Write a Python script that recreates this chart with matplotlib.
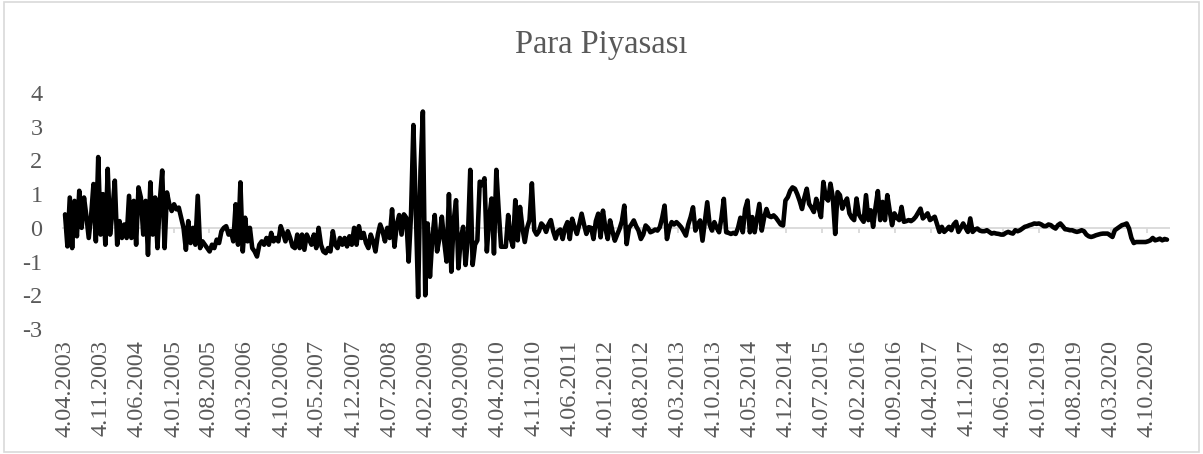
import pandas as pd
import matplotlib
matplotlib.use("Agg")
import matplotlib.pyplot as plt
from matplotlib.patches import Rectangle

# iki haftalık gözlemler, yıllara göre
v2003 = [0.4, -0.55, 0.9, -0.6, 0.8, -0.25, 1.1, 0.0, 0.9, 0.35, -0.3, 0.35, 1.3, -0.4, 2.1, -0.2,
         1.0, -0.5, 1.75, -0.2]
v2004 = [0.5, 1.4, -0.5, 0.2, -0.3, 0.1, -0.3, 0.95, -0.3, 0.8, -0.5, 1.2, 0.9, -0.2, 0.8, -0.8,
         1.35, -0.2, 0.9, -0.6, 0.8, 1.7, -0.6, 1.05, 0.7, 0.5]
v2005 = [0.7, 0.55, 0.6, 0.3, 0.0, -0.65, 0.2, -0.45, 0.0, -0.5, 0.95, -0.6, -0.4, -0.5, -0.6, -0.7,
         -0.5, -0.6, -0.35, -0.45, -0.1, 0.0, 0.05, -0.2, -0.1, -0.4]
v2006 = [0.7, -0.5, 1.35, -0.7, 0.3, -0.4, 0.0, -0.6, -0.7, -0.85, -0.5, -0.4, -0.5, -0.3, -0.5, -0.15,
         -0.4, -0.3, -0.4, 0.05, -0.15, -0.4, -0.1, -0.3, -0.55, -0.6]
v2007 = [-0.2, -0.6, -0.2, -0.65, -0.2, -0.35, -0.5, -0.2, -0.6, 0.0, -0.5, -0.7, -0.75, -0.6, -0.7, -0.1,
         -0.5, -0.6, -0.3, -0.5, -0.3, -0.55, -0.25, -0.5, 0.0, -0.5]
v2008 = [0.05, -0.3, -0.15, -0.45, -0.6, -0.2, -0.4, -0.7, -0.2, 0.1, -0.1, -0.4, 0.0, -0.3, 0.55, -0.56,
         0.1, 0.38, -0.2, 0.4, 0.3, -1.0, 0.4, 3.05, 0.6, -2.05]
v2009 = [1.7, 3.45, -2.0, 0.13, -1.45, -0.3, 0.38, -0.7, -0.3, 0.33, -0.4, -1.0, 1.0, -1.3, 0.2, 0.82,
         -1.2, -0.3, 0.03, -1.1, -0.3, 1.72, -1.1, -0.5, -0.37, 1.37]
v2010 = [1.27, 1.47, -0.7, 0.3, 0.87, -0.76, 1.72, 0.5, -0.56, -0.56, -0.56, 0.38, -0.3, -0.56, 0.82, -0.37,
         0.62, 0.0, -0.42, 0.0, 0.23, 1.32, -0.07, -0.2, -0.1, 0.13, 0.05]
v2011 = [-0.12, 0.1, 0.23, -0.1, -0.32, -0.1, -0.05, -0.33, 0.0, 0.17, -0.33, 0.27, 0.02, -0.18, 0.1, 0.42,
         0.1, -0.18, 0.02, 0.0, -0.33, 0.2, 0.42, -0.28, 0.51, 0.0]
v2012 = [-0.33, 0.22, -0.1, -0.38, -0.2, -0.03, 0.2, 0.66, -0.48, 0.0, 0.1, 0.22, 0.05, -0.08, -0.33, -0.2,
         0.07, 0.0, -0.13, -0.1, -0.05, -0.08, 0.02, 0.3, 0.66, -0.33]
v2013 = [0.0, 0.17, 0.1, 0.17, 0.1, 0.02, -0.1, -0.23, 0.1, 0.32, 0.61, -0.08, 0.1, 0.22, -0.38, 0.2,
         0.76, 0.1, -0.08, 0.17, 0.0, -0.13, 0.3, 0.86, -0.13, -0.15]
v2014 = [-0.18, -0.15, -0.18, 0.0, 0.3, -0.13, 0.56, 0.81, -0.13, 0.32, -0.13, 0.3, 0.71, -0.08, 0.3, 0.56,
         0.35, 0.32, 0.37, 0.3, 0.2, 0.1, 0.07, 0.81, 0.91, 1.1]
v2015 = [1.2, 1.16, 1.0, 0.8, 0.56, 0.9, 1.16, 0.71, 0.6, 0.47, 0.86, 0.6, 0.32, 1.36, 0.9, 0.81,
         1.31, 0.9, -0.18, 1.06, 0.97, 0.57, 0.75, 0.87, 0.43, 0.3]
v2016 = [0.23, 0.87, 0.4, 0.28, 0.18, 0.97, 0.23, 0.52, 0.03, 0.6, 1.09, 0.23, 0.77, 0.23, 0.97, 0.5,
         0.08, 0.43, 0.3, 0.23, 0.62, 0.18, 0.2, 0.23, 0.2, 0.25]
v2017 = [0.33, 0.45, 0.57, 0.28, 0.35, 0.43, 0.23, 0.28, 0.33, 0.1, -0.12, 0.03, -0.12, -0.05, 0.03, -0.07,
         0.1, 0.18, -0.12, 0.0, 0.13, 0.0, -0.12, 0.28, -0.12, -0.05]
v2018 = [-0.02, -0.08, -0.1, -0.1, -0.07, -0.12, -0.17, -0.15, -0.17, -0.18, -0.2, -0.2, -0.15, -0.12, -0.15, -0.17,
         -0.07, -0.1, -0.07, -0.02, 0.03, 0.05, 0.08, 0.1, 0.13, 0.12]
v2019 = [0.13, 0.1, 0.05, 0.05, 0.1, 0.08, 0.02, -0.02, 0.08, 0.13, 0.05, -0.04, -0.05, -0.07, -0.07, -0.1,
         -0.12, -0.1, -0.07, -0.1, -0.2, -0.25, -0.27, -0.25, -0.22, -0.2]
v2020 = [-0.18, -0.17, -0.17, -0.17, -0.22, -0.27, -0.07, -0.02, 0.03, 0.08, 0.1, 0.13, -0.02, -0.3, -0.45, -0.42,
         -0.42, -0.42, -0.42, -0.42, -0.4, -0.37, -0.3, -0.37, -0.35, -0.32]
v2021 = [-0.37, -0.33, -0.35]

degerler = (v2003 + v2004 + v2005 + v2006 + v2007 + v2008 + v2009 + v2010 + v2011 + v2012
            + v2013 + v2014 + v2015 + v2016 + v2017 + v2018 + v2019 + v2020 + v2021)
tarihler = pd.date_range("2003-04-04", periods=len(degerler), freq="14D")

# eksen etiketleri: her 7 ayda bir, ayın 4'ü
etiket_tarihleri = pd.date_range("2003-04-01", "2020-10-01", freq="7MS") + pd.Timedelta(days=3)
etiketler = [f"{t.day}.{t.month:02d}.{t.year}" for t in etiket_tarihleri]
y_degerleri = [4, 3, 2, 1, 0, -1, -2, -3]

plt.rcParams['font.family'] = ['Liberation Serif', 'DejaVu Serif']
plt.rcParams['axes.unicode_minus'] = False
gri = '#595959'

W, H = 1203, 454
fig = plt.figure(figsize=(W / 100, H / 100), dpi=100)
ax = fig.add_axes([62 / W, (H - 329) / H, (1170 - 62) / W, (329 - 93) / H])

ax.axhline(0, color='#d9d9d9', lw=1.3, zorder=1)
ax.vlines(etiket_tarihleri, -0.16, 0, color='#d9d9d9', lw=1.3, zorder=1)
ax.plot(tarihler, degerler, color='black', lw=3.3, solid_joinstyle='round',
        solid_capstyle='round', zorder=3)

ax.set_xlim(tarihler[0] - pd.Timedelta(days=18), tarihler[-1] + pd.Timedelta(days=18))
ax.set_ylim(-3, 4)
ax.set_yticks(y_degerleri)
ax.set_yticklabels([str(v) for v in y_degerleri])
ax.set_xticks(etiket_tarihleri)
ax.set_xticklabels(etiketler, rotation=90)
ax.tick_params(axis='both', length=0, labelsize=17.5, labelcolor=gri)
ax.tick_params(axis='y', pad=14)
ax.tick_params(axis='x', pad=8)
for s in ax.spines.values():
    s.set_visible(False)

fig.text(0.5, 1 - 45 / H, "Para Piyasası", ha='center', va='center', fontsize=23.5, color=gri)

fig.patches.append(Rectangle((4 / W, 2 / H), (1199 - 4) / W, (452 - 2) / H, transform=fig.transFigure,
                             fill=False, edgecolor='#d9d9d9', lw=1.2))

fig.savefig("out.png", dpi=100)
